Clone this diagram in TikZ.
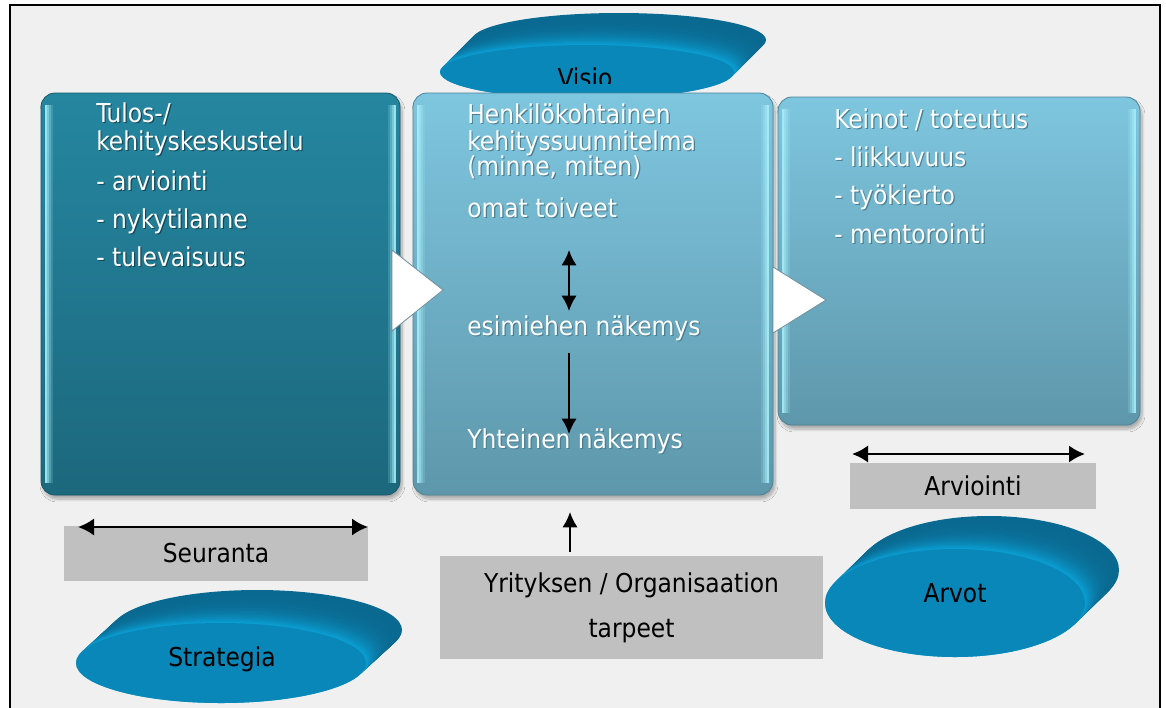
\documentclass[tikz,border=0pt]{standalone}
\usepackage{fontspec}
\setmainfont{DejaVu Sans Condensed}
\usetikzlibrary{arrows.meta,shadows.blur}

\definecolor{pagebg}{HTML}{F0F0F0}
\definecolor{darktop}{HTML}{2586A0}
\definecolor{darkbot}{HTML}{1C687D}
\definecolor{darkedge}{HTML}{175868}
\definecolor{darkshade}{HTML}{12495A}
\definecolor{lighttop}{HTML}{7EC6DF}
\definecolor{lightbot}{HTML}{5E97AB}
\definecolor{lightedge}{HTML}{4C8296}
\definecolor{lightshade}{HTML}{4A7F92}
\definecolor{glow}{HTML}{A6EEF8}
\definecolor{labelgray}{HTML}{C0C0C0}
\definecolor{diskback}{HTML}{0A6990}
\definecolor{diskside}{HTML}{0AA2D8}
\definecolor{diskface}{HTML}{0987B8}
\definecolor{chevedge}{HTML}{6F8E9A}

% text with a soft drop shadow in the colour \shcol
\newcommand\ts[1]{\rlap{\kern0.9pt\raisebox{-0.9pt}{\color{\shcol}#1}}#1}
\def\shcol{darkshade}

% glossy highlight strips along the inner left and right edges of a panel
\newcommand\sidestrips[4]{%
  \foreach \i/\op in {0/0.9,1/0.65,2/0.4,3/0.18}{%
    \fill[glow,opacity=\op] ({#1+4+2*\i},{#2+12}) rectangle ({#1+6+2*\i},{#4-12});
    \fill[glow,opacity=\op] ({#3-6-2*\i},{#2+12}) rectangle ({#3-4-2*\i},{#4-12});
  }}

% extruded elliptic disk: centre, radii, extrusion offset
\newcommand\disk[6]{%
  \foreach \k in {0,...,30}{%
    \pgfmathsetmacro\fr{\k/30}%
    \pgfmathsetmacro\pc{100*\fr*\fr*\fr}%
    \fill[diskside!\pc!diskback] ({#1+#5*(1-\fr)},{#2+#6*(1-\fr)}) ellipse [x radius=#3, y radius=#4];
  }
  \fill[diskface] (#1,#2) ellipse [x radius=#3, y radius=#4];}

\tikzset{
  panel/.style={rectangle, rounded corners=10.5pt, draw=#1edge, line width=0.6pt,
    top color=#1top, bottom color=#1bot, inner sep=0pt,
    blur shadow={shadow xshift=1.5pt, shadow yshift=-3pt, shadow blur steps=8, shadow opacity=30}},
  boxtext/.style={text=white, anchor=base west, inner sep=0pt, font=\fontsize{19.5}{23}\selectfont},
  graylabel/.style={rectangle, fill=labelgray, inner sep=0pt, text=black,
    font=\fontsize{19.5}{33.75}\selectfont, align=center},
  disklabel/.style={inner sep=0pt, text=black, font=\fontsize{19.5}{22}\selectfont},
  chevron/.style={fill=white, draw=chevedge, line width=0.6pt, line join=miter},
  harrow/.style={line width=2pt, {Latex[length=12pt,width=13pt]}-{Latex[length=12pt,width=13pt]}},
  varrow/.style={line width=1.5pt, -{Latex[length=11.5pt,width=11.5pt]}},
  vdouble/.style={line width=1.5pt, {Latex[length=11.5pt,width=11.5pt]}-{Latex[length=11.5pt,width=11.5pt]}},
}

\begin{document}
\begin{tikzpicture}[x=0.75pt,y=-0.75pt]
\useasboundingbox (0,0) rectangle (1166,707);
\fill[white] (0,0) rectangle (1166,707);
% framed page
\draw[fill=pagebg, line width=1.5pt] (10,5) rectangle (1160,740);

% Visio disk (partly hidden behind the middle panel)
\disk{587}{72}{147}{27}{32}{-32}
\begin{scope}
  \clip (480,0) rectangle (700,83);
  \node[disklabel, anchor=base] (visio) at (585,87) {Visio};
\end{scope}

% panels
\node[panel=dark, minimum width=269.25pt, minimum height=301.5pt] (p1) at (220.5,294) {};
\sidestrips{41}{93}{400}{495}
\node[panel=light, minimum width=270pt, minimum height=301.5pt] (p2) at (593,294) {};
\sidestrips{413}{93}{773}{495}
\node[panel=light, minimum width=271.5pt, minimum height=246pt] (p3) at (959,261) {};
\sidestrips{778}{97}{1140}{425}

% chevrons between the panels
\coordinate (c1a) at (392,250); \coordinate (c1t) at (443,290); \coordinate (c1b) at (392,331);
\fill[chevron] (c1a) -- (c1t) -- (c1b) -- cycle;
\coordinate (c2a) at (773,267); \coordinate (c2t) at (826,300); \coordinate (c2b) at (773,333);
\fill[chevron] (c2a) -- (c2t) -- (c2b) -- cycle;

% left panel text
\begin{scope}
\def\shcol{darkshade}
\node[boxtext] (t1a) at (96,122) {\ts{Tulos-/}};
\node[boxtext] (t1b) at (96,150) {\ts{kehityskeskustelu}};
\node[boxtext] (t1c) at (96,190) {\ts{- arviointi}};
\node[boxtext] (t1d) at (96,228) {\ts{- nykytilanne}};
\node[boxtext] (t1e) at (96,266) {\ts{- tulevaisuus}};
\end{scope}

% middle panel text
\begin{scope}
\def\shcol{lightshade}
\node[boxtext] (t2a) at (467,123) {\ts{Henkilökohtainen}};
\node[boxtext] (t2b) at (467,150) {\ts{kehityssuunnitelma}};
\node[boxtext] (t2c) at (467,175) {\ts{(minne, miten)}};
\node[boxtext] (t2d) at (467,217) {\ts{omat toiveet}};
\node[boxtext] (t2e) at (467,335) {\ts{esimiehen näkemys}};
\node[boxtext] (t2f) at (467,448) {\ts{Yhteinen näkemys}};
% right panel text
\node[boxtext] (t3a) at (834,128) {\ts{Keinot / toteutus}};
\node[boxtext] (t3b) at (834,166) {\ts{- liikkuvuus}};
\node[boxtext] (t3c) at (834,204) {\ts{- työkierto}};
\node[boxtext] (t3d) at (834,243) {\ts{- mentorointi}};
\end{scope}

% arrows inside the middle panel
\coordinate (dTop) at (569,250); \coordinate (dBot) at (569,311);
\draw[vdouble] (dTop) -- (dBot);
\coordinate (sTop) at (569,353); \coordinate (sBot) at (569,434);
\draw[varrow] (sTop) -- (sBot);

% grey labels
\node[graylabel, minimum width=228pt, minimum height=41.25pt] (seuranta) at (216,553.5) {Seuranta};
\node[graylabel, minimum width=184.5pt, minimum height=34.5pt] (arviointi) at (973,486) {Arviointi};
\node[graylabel, minimum width=287.25pt, minimum height=77.25pt] (tarpeet) at (631.5,607.5) {Yrityksen / Organisaation\\tarpeet};

\coordinate (seuL) at (78,527); \coordinate (seuR) at (368,527);
\draw[harrow] (seuL) -- (seuR);
\coordinate (arvL) at (852,454); \coordinate (arvR) at (1085,454);
\draw[harrow] (arvL) -- (arvR);
\coordinate (upTip) at (570,512);
\draw[varrow] (tarpeet.north -| upTip) ++(0,-4) coordinate (upFoot) (upFoot) -- (upTip);

% Strategia and Arvot disks
\disk{221}{663}{145}{40}{36}{-33}
\node[disklabel] (strategia) at (222,659) {Strategia};
\disk{955}{603}{130}{54}{34}{-33}
\node[disklabel] (arvot) at (955,593) {Arvot};
\end{tikzpicture}
\end{document}
